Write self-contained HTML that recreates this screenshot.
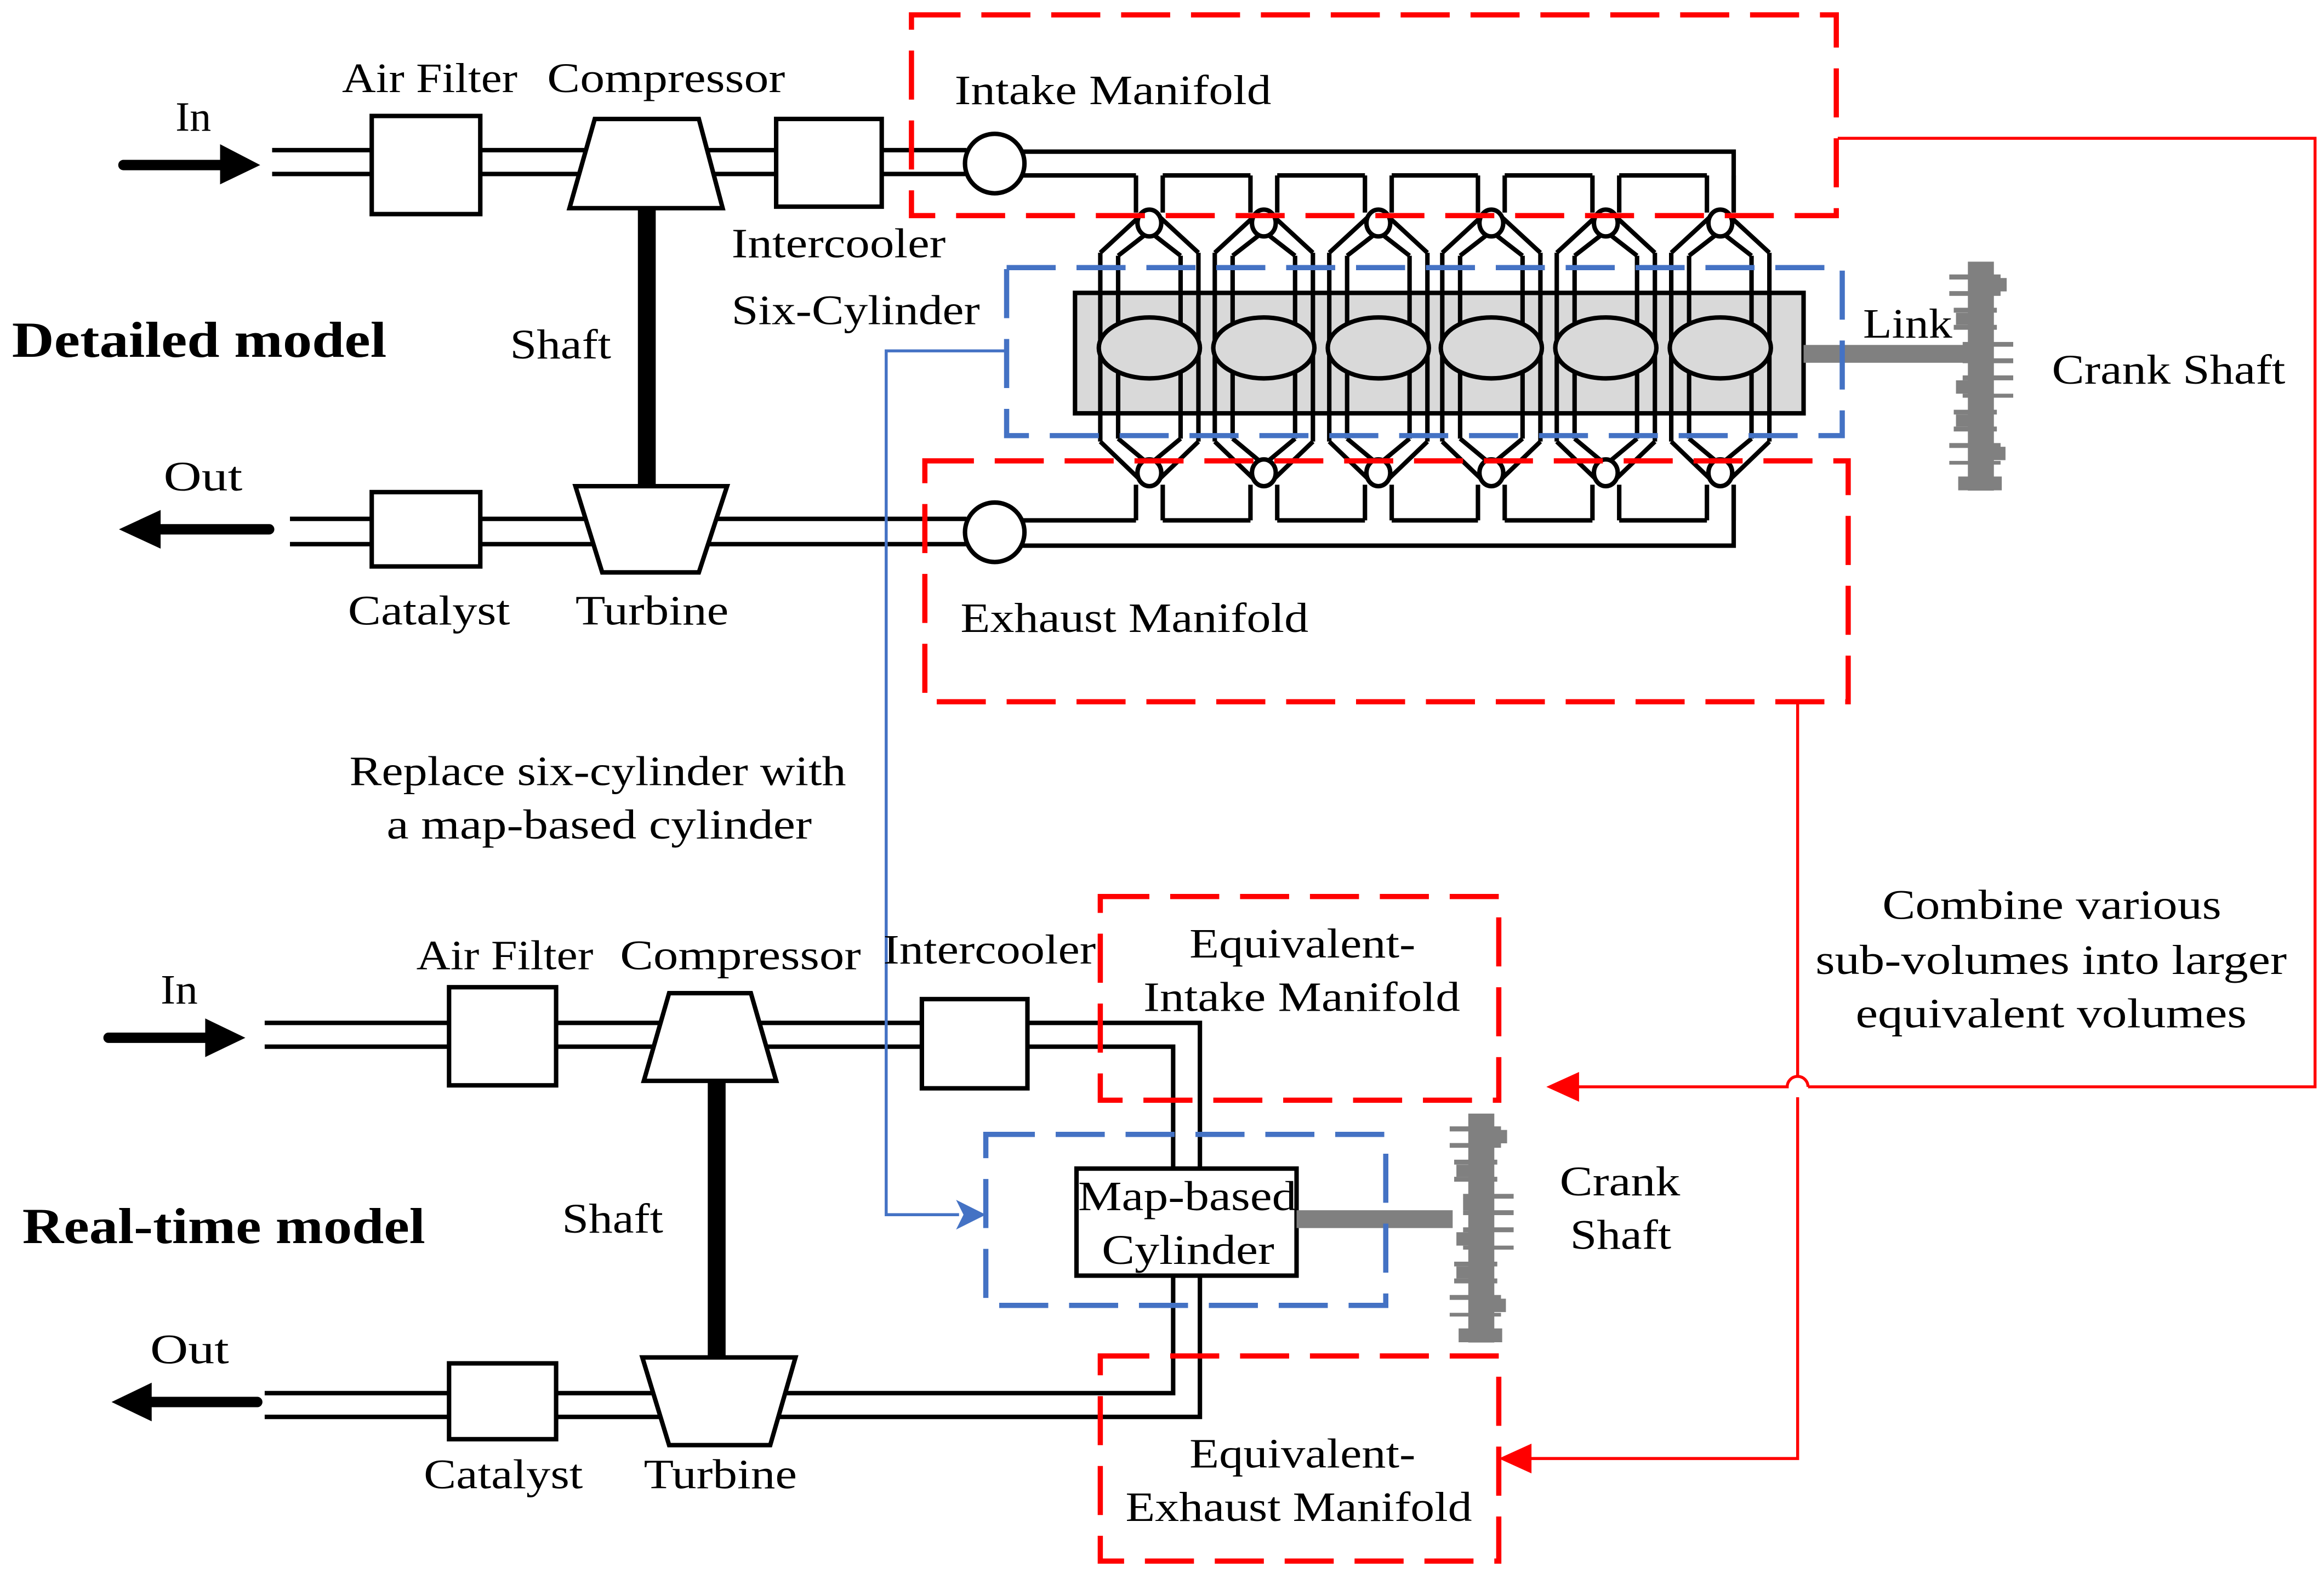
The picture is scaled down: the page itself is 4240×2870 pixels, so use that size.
<!DOCTYPE html>
<html><head><meta charset="utf-8"><style>html,body{margin:0;padding:0;background:#fff}svg{display:block}</style></head>
<body>
<svg width="4240" height="2870" viewBox="0 0 1563 1058" xmlns="http://www.w3.org/2000/svg">
<defs>
<g id="cyl" fill="none" stroke="#000" stroke-width="3">
<line x1="-9" y1="118" x2="-9" y2="143"/><line x1="9" y1="118" x2="9" y2="143"/>
<line x1="-7" y1="146" x2="-33" y2="170"/><line x1="-3" y1="158" x2="-21" y2="172"/>
<line x1="7" y1="146" x2="33" y2="170"/><line x1="3" y1="158" x2="21" y2="172"/>
<line x1="-33" y1="170" x2="-33" y2="297"/><line x1="-21" y1="172" x2="-21" y2="295"/>
<line x1="33" y1="170" x2="33" y2="297"/><line x1="21" y1="172" x2="21" y2="295"/>
<line x1="-33" y1="297" x2="-7" y2="322"/><line x1="-21" y1="295" x2="-3" y2="310"/>
<line x1="33" y1="297" x2="7" y2="322"/><line x1="21" y1="295" x2="3" y2="310"/>
<ellipse cx="0" cy="150" rx="8" ry="9" fill="#fff"/>
<ellipse cx="0" cy="318" rx="8" ry="9" fill="#fff"/>
<line x1="-9" y1="326" x2="-9" y2="350"/><line x1="9" y1="326" x2="9" y2="350"/>
<ellipse cx="0" cy="234" rx="34" ry="20.5" fill="#d9d9d9"/>
</g>
<g id="crank" fill="#808080">
<rect x="12.5" y="0" width="17.5" height="154"/>
<rect x="0" y="8.6" width="34.5" height="3.4"/>
<rect x="21" y="11" width="17.6" height="9"/>
<rect x="0" y="19.8" width="34.5" height="3.2"/>
<rect x="3" y="31" width="29" height="3.3"/>
<rect x="4.5" y="34.4" width="17" height="8.1"/>
<rect x="3" y="42.5" width="29" height="3.3"/>
<rect x="9" y="54" width="34" height="3.2"/>
<rect x="9" y="57" width="13.6" height="8"/>
<rect x="9" y="65" width="34" height="3.3"/>
<rect x="9" y="76.5" width="34" height="3.3"/>
<rect x="4.5" y="79.8" width="17" height="9"/>
<rect x="9" y="88.8" width="34" height="2.7"/>
<rect x="3" y="99.6" width="29" height="3.2"/>
<rect x="4.5" y="102.8" width="17" height="8.1"/>
<rect x="3" y="110.9" width="29" height="3.3"/>
<rect x="0" y="122" width="34.5" height="3.3"/>
<rect x="20.5" y="124.5" width="17.3" height="9"/>
<rect x="0" y="134" width="34.5" height="2.5"/>
<rect x="6" y="144.5" width="29.3" height="9.3"/>
</g>
</defs>
<rect width="1563" height="1058" fill="#fff"/>

<g fill="none" stroke="#000" stroke-width="3">
<line x1="183" y1="101" x2="650" y2="101"/><line x1="183" y1="117" x2="650" y2="117"/>
<line x1="195" y1="349" x2="650" y2="349"/><line x1="195" y1="366" x2="650" y2="366"/>
<polyline points="669,102 1166,102 1166,143"/>
<polyline points="669,367 1166,367 1166,326"/>
<line x1="686" y1="118" x2="764" y2="118"/>
<line x1="686" y1="350" x2="764" y2="350"/>
<line x1="782" y1="118" x2="841" y2="118"/><line x1="859" y1="118" x2="918" y2="118"/><line x1="936" y1="118" x2="994" y2="118"/><line x1="1012" y1="118" x2="1071" y2="118"/><line x1="1089" y1="118" x2="1148" y2="118"/>
<line x1="782" y1="350" x2="841" y2="350"/><line x1="859" y1="350" x2="918" y2="350"/><line x1="936" y1="350" x2="994" y2="350"/><line x1="1012" y1="350" x2="1071" y2="350"/><line x1="1089" y1="350" x2="1148" y2="350"/>
</g>
<rect x="250" y="78" width="73" height="66" fill="#fff" stroke="#000" stroke-width="3"/>
<rect x="522" y="80" width="71" height="59" fill="#fff" stroke="#000" stroke-width="3"/>
<rect x="250" y="331" width="73" height="50" fill="#fff" stroke="#000" stroke-width="3"/>
<rect x="429" y="140" width="12" height="187" fill="#000"/>
<polygon points="400,80 470,80 486,140 383,140" fill="#fff" stroke="#000" stroke-width="3"/>
<polygon points="387,327 489,327 470,385 405,385" fill="#fff" stroke="#000" stroke-width="3"/>
<circle cx="669" cy="110" r="20" fill="#fff" stroke="#000" stroke-width="3"/>
<circle cx="669" cy="358" r="20" fill="#fff" stroke="#000" stroke-width="3"/>
<rect x="723" y="197" width="490" height="81" fill="#d9d9d9" stroke="#000" stroke-width="3"/>
<use href="#cyl" x="773"/><use href="#cyl" x="850"/><use href="#cyl" x="927"/><use href="#cyl" x="1003"/><use href="#cyl" x="1080"/><use href="#cyl" x="1157"/>
<rect x="1213" y="232" width="117" height="12" fill="#808080"/>
<use href="#crank" x="1311" y="176"/>
<line x1="83" y1="111" x2="150" y2="111" stroke="#000" stroke-width="7" stroke-linecap="round"/>
<polygon points="148,97 175,111 148,124" fill="#000"/>
<line x1="181" y1="356" x2="106" y2="356" stroke="#000" stroke-width="7" stroke-linecap="round"/>
<polygon points="108,343 80,356 108,369" fill="#000"/>
<g fill="none" stroke-width="3.5" stroke-dasharray="33,14">
<rect x="613" y="10" width="622" height="135" stroke="#ff0000"/>
<rect x="622" y="310" width="621" height="162" stroke="#ff0000"/>
<rect x="677" y="180" width="562" height="113" stroke="#4472c4"/>
</g>

<g fill="none" stroke="#000" stroke-width="3">
<line x1="178" y1="688" x2="620" y2="688"/><line x1="178" y1="704" x2="620" y2="704"/>
<polyline points="691,688 807,688 807,953 178,953"/>
<polyline points="691,704 789,704 789,937 178,937"/>
</g>
<rect x="302" y="664" width="72" height="66" fill="#fff" stroke="#000" stroke-width="3"/>
<rect x="620" y="672" width="71" height="60" fill="#fff" stroke="#000" stroke-width="3"/>
<rect x="302" y="917" width="72" height="51" fill="#fff" stroke="#000" stroke-width="3"/>
<rect x="476" y="727" width="12" height="186" fill="#000"/>
<polygon points="450,668 505,668 522,727 433,727" fill="#fff" stroke="#000" stroke-width="3"/>
<polygon points="432,913 535,913 518,972 450,972" fill="#fff" stroke="#000" stroke-width="3"/>
<rect x="724" y="786" width="148" height="72" fill="#fff" stroke="#000" stroke-width="3"/>
<rect x="872" y="814" width="105" height="12" fill="#808080"/>
<use href="#crank" x="975" y="749"/>
<line x1="73" y1="698" x2="140" y2="698" stroke="#000" stroke-width="7" stroke-linecap="round"/>
<polygon points="138,685 165,698 138,711" fill="#000"/>
<line x1="173" y1="943" x2="100" y2="943" stroke="#000" stroke-width="7" stroke-linecap="round"/>
<polygon points="102,930 75,943 102,956" fill="#000"/>
<g fill="none" stroke-width="3.5" stroke-dasharray="33,14">
<rect x="740" y="603" width="268" height="137" stroke="#ff0000"/>
<rect x="740" y="912" width="268" height="138" stroke="#ff0000"/>
<rect x="663" y="763" width="269" height="115" stroke="#4472c4"/>
</g>
<g fill="none" stroke-width="2">
<polyline points="1236,93 1557,93 1557,731 1216,731" stroke="#ff0000"/>
<path d="M1216,731 A7,7 0 0 0 1202,731 L1060,731" stroke="#ff0000"/>
<polyline points="1209,472 1209,724" stroke="#ff0000"/>
<polyline points="1209,738 1209,981 1028,981" stroke="#ff0000"/>
<polyline points="677,236 596,236 596,817 645,817" stroke="#4472c4"/>
</g>
<polygon points="1040,731 1062,721 1062,741" fill="#ff0000"/>
<polygon points="1008,981 1030,971 1030,991" fill="#ff0000"/>
<polygon points="663,817 643,807 648,817 643,827" fill="#4472c4"/>

<g font-family="Liberation Serif, serif" font-size="28" fill="#000" lengthAdjust="spacingAndGlyphs">
<text x="118" y="88" textLength="24" lengthAdjust="spacingAndGlyphs">In</text>
<text x="230" y="62" textLength="118" lengthAdjust="spacingAndGlyphs">Air Filter</text>
<text x="368" y="62" textLength="160" lengthAdjust="spacingAndGlyphs">Compressor</text>
<text x="642" y="70" textLength="213" lengthAdjust="spacingAndGlyphs">Intake Manifold</text>
<text x="492" y="173" textLength="144" lengthAdjust="spacingAndGlyphs">Intercooler</text>
<text x="492" y="218" textLength="167" lengthAdjust="spacingAndGlyphs">Six-Cylinder</text>
<text x="8" y="240" font-weight="bold" font-size="34" textLength="252" lengthAdjust="spacingAndGlyphs">Detailed model</text>
<text x="343" y="241" textLength="68" lengthAdjust="spacingAndGlyphs">Shaft</text>
<text x="1253" y="227" textLength="60" lengthAdjust="spacingAndGlyphs">Link</text>
<text x="1380" y="258" textLength="157" lengthAdjust="spacingAndGlyphs">Crank Shaft</text>
<text x="110" y="330" textLength="53" lengthAdjust="spacingAndGlyphs">Out</text>
<text x="234" y="420" textLength="109" lengthAdjust="spacingAndGlyphs">Catalyst</text>
<text x="387" y="420" textLength="103" lengthAdjust="spacingAndGlyphs">Turbine</text>
<text x="646" y="425" textLength="234" lengthAdjust="spacingAndGlyphs">Exhaust Manifold</text>
<text x="235" y="528" textLength="334" lengthAdjust="spacingAndGlyphs">Replace six-cylinder with</text>
<text x="260" y="564" textLength="286" lengthAdjust="spacingAndGlyphs">a map-based cylinder</text>
<text x="1266" y="618" textLength="228" lengthAdjust="spacingAndGlyphs">Combine various</text>
<text x="1221" y="655" textLength="317" lengthAdjust="spacingAndGlyphs">sub-volumes into larger</text>
<text x="1248" y="691" textLength="263" lengthAdjust="spacingAndGlyphs">equivalent volumes</text>

<text x="108" y="675" textLength="25" lengthAdjust="spacingAndGlyphs">In</text>
<text x="280" y="652" textLength="119" lengthAdjust="spacingAndGlyphs">Air Filter</text>
<text x="417" y="652" textLength="162" lengthAdjust="spacingAndGlyphs">Compressor</text>
<text x="594" y="648" textLength="143" lengthAdjust="spacingAndGlyphs">Intercooler</text>
<text x="800" y="644" textLength="152" lengthAdjust="spacingAndGlyphs">Equivalent-</text>
<text x="769" y="680" textLength="213" lengthAdjust="spacingAndGlyphs">Intake Manifold</text>
<text x="15" y="836" font-weight="bold" font-size="34" textLength="271" lengthAdjust="spacingAndGlyphs">Real-time model</text>
<text x="378" y="829" textLength="68" lengthAdjust="spacingAndGlyphs">Shaft</text>
<text x="725" y="814" textLength="147" lengthAdjust="spacingAndGlyphs">Map-based</text>
<text x="741" y="850" textLength="116" lengthAdjust="spacingAndGlyphs">Cylinder</text>
<text x="1049" y="804" textLength="81" lengthAdjust="spacingAndGlyphs">Crank</text>
<text x="1056" y="840" textLength="68" lengthAdjust="spacingAndGlyphs">Shaft</text>
<text x="101" y="917" textLength="53" lengthAdjust="spacingAndGlyphs">Out</text>
<text x="285" y="1001" textLength="107" lengthAdjust="spacingAndGlyphs">Catalyst</text>
<text x="433" y="1001" textLength="103" lengthAdjust="spacingAndGlyphs">Turbine</text>
<text x="800" y="987" textLength="152" lengthAdjust="spacingAndGlyphs">Equivalent-</text>
<text x="757" y="1023" textLength="233" lengthAdjust="spacingAndGlyphs">Exhaust Manifold</text>
</g>
</svg>
</body></html>
